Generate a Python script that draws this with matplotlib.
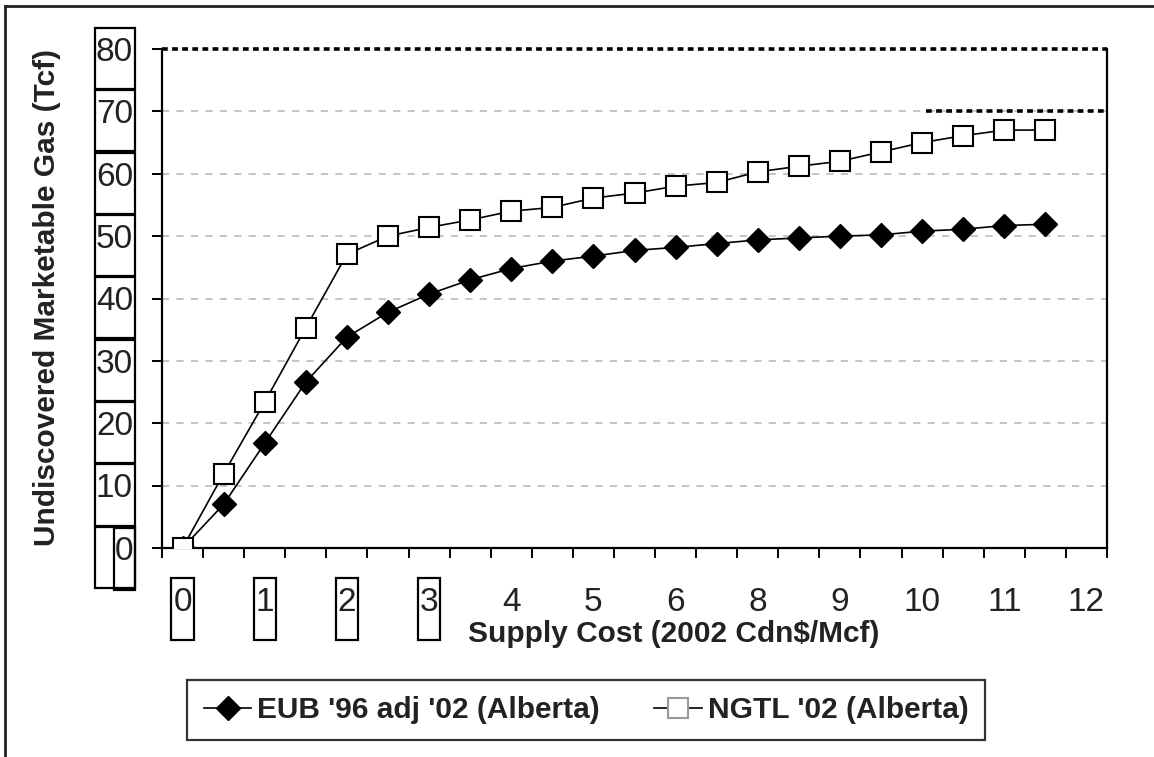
import numpy as np
import matplotlib
matplotlib.use("Agg")
from matplotlib import pyplot as plt
from matplotlib import transforms
from matplotlib.patches import Rectangle
from matplotlib.lines import Line2D

plt.rcParams['font.family'] = ['Liberation Sans', 'DejaVu Sans']

# category axis: 23 slots, labels on every other slot (note: no 7 in source)
x_labels = ['0', '1', '2', '3', '4', '5', '6', '8', '9', '10', '11', '12']
n_slots = 23

eub = [0, 7.0, 16.8, 26.6, 33.8, 37.8, 40.7, 43.0, 44.8, 46.0, 46.8, 47.7,
       48.2, 48.8, 49.4, 49.7, 50.0, 50.2, 50.8, 51.1, 51.7, 51.9]
ngtl = [0, 11.9, 23.4, 35.3, 47.1, 50.0, 51.4, 52.6, 54.0, 54.6, 56.1, 56.9,
        58.0, 58.6, 60.3, 61.2, 62.0, 63.5, 65.0, 66.1, 67.0, 67.0]
y_ticks = [0, 10, 20, 30, 40, 50, 60, 70, 80]

W, H = 1154, 757
fig = plt.figure(figsize=(W / 100, H / 100), dpi=100)
ax = fig.add_axes([162 / W, 1 - 548 / H, (1107 - 162) / W, (548 - 49) / H])

xs = np.arange(len(eub))
ax.plot(xs, eub, color='black', lw=1.2, marker='D', ms=12, mfc='black',
        mec='black', zorder=3)
ax.plot(xs, ngtl, color='black', lw=1.2, marker='s', ms=14, mfc='white',
        mec='black', mew=1.5, zorder=4)

ax.set_xlim(-0.5, n_slots - 0.5)
ax.set_ylim(0, 80)

# gridlines
for v in y_ticks[1:-1]:
    ax.axhline(v, color='#c0c0c0', lw=1.3, ls=(0, (4, 4)), zorder=1)
# dotted black lines at 80 and 70
ax.axhline(80, color='black', lw=2.6, ls=(0, (1.6, 1.2)), zorder=2,
           clip_on=False)
ax.hlines(70, 18.1, n_slots - 0.5, color='black', lw=2.6,
          ls=(0, (1.6, 1.2)), zorder=2)

ax.spines['top'].set_visible(False)
for s in ['left', 'bottom', 'right']:
    ax.spines[s].set_linewidth(1.6)

ax.set_yticks(y_ticks)
ax.set_yticklabels([])
ax.set_xticks(np.arange(n_slots + 1) - 0.5)
ax.set_xticklabels([])
ax.tick_params(axis='both', direction='out', length=7.5, width=1.4)

# y tick labels with boxes
ty = transforms.blended_transform_factory(fig.transFigure, ax.transData)
for v in y_ticks:
    ax.text(133 / W, v - 1.9, str(v), transform=ty, ha='right', va='baseline',
            fontsize=24, color='#222222', clip_on=False)
    ax.add_patch(Rectangle((95 / W, v - 6.4), 40 / W, 9.8, transform=ty,
                           fill=False, ec='black', lw=1.6, clip_on=False))
ax.add_patch(Rectangle((114 / W, -6.7), 21 / W, 9.9, transform=ty,
                       fill=False, ec='black', lw=1.6, clip_on=False))

# x tick labels, first four boxed
tx = transforms.blended_transform_factory(ax.transData, fig.transFigure)
for i, lab in enumerate(x_labels):
    xi = 2 * i
    ax.text(xi, 1 - 611 / H, lab, transform=tx, ha='center', va='baseline',
            fontsize=24, color='#222222', clip_on=False)
    if i < 4:
        ax.add_patch(Rectangle((xi - 0.27, 1 - 640 / H), 0.54, 62 / H,
                               transform=tx, fill=False, ec='black', lw=1.6,
                               clip_on=False))

fig.text(674 / W, 1 - 642 / H, 'Supply Cost (2002 Cdn$/Mcf)', ha='center',
         va='baseline', fontsize=21.5, fontweight='bold', color='#222222')
fig.text(47 / W, 1 - 298 / H, 'Undiscovered Marketable Gas (Tcf)',
         rotation=90, ha='center', va='center', fontsize=21.5,
         fontweight='bold', color='#222222')

h1 = Line2D([], [], color='black', lw=1.2, marker='D', ms=12, mfc='black', mec='black')
h2 = Line2D([], [], color='black', lw=1.2, marker='s', ms=14, mfc='white',
            mec='#999999', mew=1.5)
leg = fig.legend([h1, h2], ["EUB '96 adj '02 (Alberta)", "NGTL '02 (Alberta)"],
                 loc='center', bbox_to_anchor=(586 / W, 1 - 710 / H), ncol=2,
                 frameon=True, fancybox=False, edgecolor='black',
                 prop={'weight': 'bold', 'size': 21.5}, handlelength=1.6,
                 handletextpad=0.2, columnspacing=1.8, borderpad=0.55)
leg.get_frame().set_linewidth(1.6)
for t in leg.get_texts():
    t.set_color('#222222')

# outer frame: left and top lines only
fig.add_artist(Line2D([5 / W, 5 / W], [0, 1 - 6 / H], color='#222222', lw=2,
                      transform=fig.transFigure))
fig.add_artist(Line2D([5 / W, 1], [1 - 6 / H, 1 - 6 / H], color='#222222',
                      lw=2, transform=fig.transFigure))

fig.savefig('out.png', dpi=100)
